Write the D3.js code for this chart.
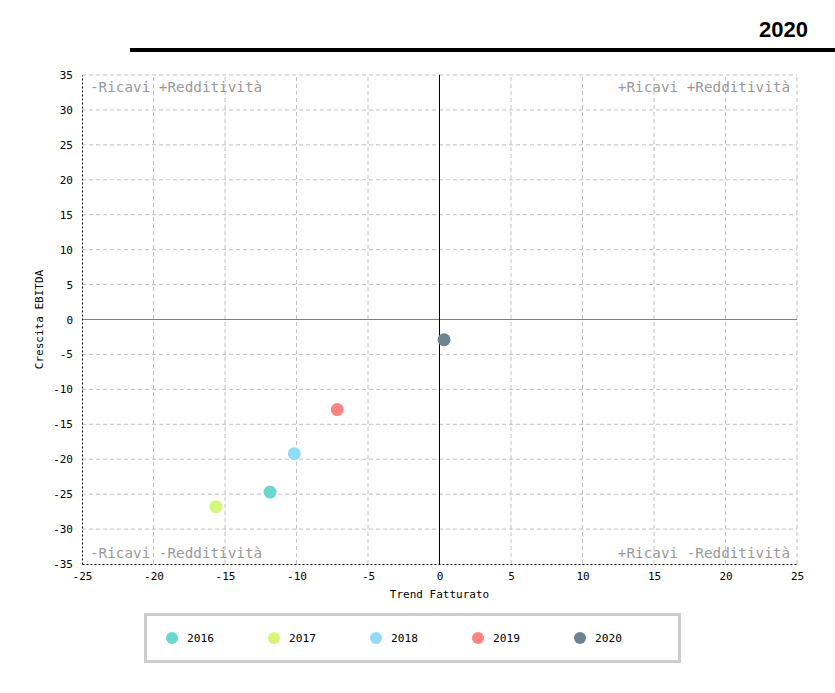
<!DOCTYPE HTML>
<html>
	<head>
		<title>Quadranti 2020</title>
		<meta charset="UTF8">
		<script src="https://d3js.org/d3.v7.min.js"></script>
		<style>
			body
			{
				margin: 0;
				padding: 0;
				background-color: white;
			}
			svg text
			{
				font-family: "DejaVu Sans Mono", monospace;
			}
			.grid line
			{
				stroke: #c0c0c0;
				stroke-dasharray: 4,3;
			}
			.axis path
			{
				stroke: black;
				stroke-dasharray: 2,2;
			}
			.axis text
			{
				font-size: 11px;
				fill: black;
			}
			.quad
			{
				font-size: 14.3px;
				fill: #999999;
			}
		</style>
	</head>

	<body>
		<svg id="chart"></svg>
	</body>

	<script>
		const years = ["2016", "2017", "2018", "2019", "2020"];
		const trendFatturato = [-11.85, -15.63, -10.15, -7.15, 0.32];
		const crescitaEbitda = [-24.7, -26.8, -19.2, -12.9, -2.9];
		const colors = ["#69d8cf", "#d4f779", "#92dcfb", "#fe8484", "#6b8590"];
		const xTicks = d3.range(-25, 26, 5);
		const yTicks = d3.range(-35, 36, 5);

		const w = 835;
		const h = 693;
		const margin = {left: 82, right: 38, top: 75, bottom: 129};

		const svg = d3.select("#chart")
			.attr("width", w)
			.attr("height", h);

		// title + bar
		svg.append("text")
			.attr("x", 808)
			.attr("y", 37)
			.attr("text-anchor", "end")
			.style("font-family", "'Liberation Sans', Arial, sans-serif")
			.style("font-weight", "bold")
			.style("font-size", "22px")
			.text("2020");

		svg.append("rect")
			.attr("x", 130)
			.attr("y", 48)
			.attr("width", w - 130)
			.attr("height", 4)
			.style("fill", "black");

		const xScale = d3.scaleLinear()
			.domain([-25, 25])
			.range([margin.left, w - margin.right]);

		const yScale = d3.scaleLinear()
			.domain([-35, 35])
			.range([h - margin.bottom, margin.top]);

		// grid
		const grid = svg.append("g").attr("class", "grid");
		grid.selectAll(".vx")
			.data(xTicks.filter(d => d != -25))
			.enter()
			.append("line")
			.attr("x1", d => xScale(d))
			.attr("x2", d => xScale(d))
			.attr("y1", yScale(-35))
			.attr("y2", yScale(35));
		grid.selectAll(".hy")
			.data(yTicks.filter(d => d != -35))
			.enter()
			.append("line")
			.attr("x1", xScale(-25))
			.attr("x2", xScale(25))
			.attr("y1", d => yScale(d))
			.attr("y2", d => yScale(d));

		// zero lines
		svg.append("line")
			.attr("x1", xScale(-25))
			.attr("x2", xScale(25))
			.attr("y1", yScale(0))
			.attr("y2", yScale(0))
			.style("stroke", "#808080")
			.style("stroke-width", 1);
		svg.append("line")
			.attr("x1", xScale(0))
			.attr("x2", xScale(0))
			.attr("y1", yScale(-35))
			.attr("y2", yScale(35))
			.style("stroke", "black")
			.style("stroke-width", 1);

		// axes
		const xAxis = d3.axisBottom(xScale).tickValues(xTicks).tickSize(0).tickPadding(8).tickFormat(d => d);
		const yAxis = d3.axisLeft(yScale).tickValues(yTicks).tickSize(0).tickPadding(9).tickFormat(d => d);

		svg.append("g")
			.attr("class", "axis")
			.attr("transform", "translate(0," + yScale(-35) + ")")
			.call(xAxis);

		svg.append("g")
			.attr("class", "axis")
			.attr("transform", "translate(" + xScale(-25) + ",0)")
			.call(yAxis);

		svg.append("text")
			.attr("x", xScale(0))
			.attr("y", 598)
			.attr("text-anchor", "middle")
			.style("font-size", "11px")
			.text("Trend Fatturato");

		svg.append("text")
			.attr("transform", "translate(43," + yScale(0) + ") rotate(-90)")
			.attr("text-anchor", "middle")
			.style("font-size", "11px")
			.text("Crescita EBITDA");

		// quadrant labels
		svg.append("text").attr("class", "quad")
			.attr("x", xScale(-25) + 8).attr("y", yScale(35) + 17)
			.text("-Ricavi +Redditività");
		svg.append("text").attr("class", "quad")
			.attr("x", xScale(25) - 7).attr("y", yScale(35) + 17)
			.attr("text-anchor", "end")
			.text("+Ricavi +Redditività");
		svg.append("text").attr("class", "quad")
			.attr("x", xScale(-25) + 8).attr("y", yScale(-35) - 6)
			.text("-Ricavi -Redditività");
		svg.append("text").attr("class", "quad")
			.attr("x", xScale(25) - 7).attr("y", yScale(-35) - 6)
			.attr("text-anchor", "end")
			.text("+Ricavi -Redditività");

		// points
		svg.selectAll(".pt")
			.data(years)
			.enter()
			.append("circle")
			.attr("class", "pt")
			.attr("cx", (d, i) => xScale(trendFatturato[i]))
			.attr("cy", (d, i) => yScale(crescitaEbitda[i]))
			.attr("r", 6.5)
			.style("fill", (d, i) => colors[i]);

		// legend
		const legend = svg.append("g").attr("class", "legend");
		legend.append("rect")
			.attr("x", 145.5)
			.attr("y", 614.5)
			.attr("width", 534)
			.attr("height", 47)
			.style("fill", "white")
			.style("stroke", "#cccccc")
			.style("stroke-width", 3);

		const item = legend.selectAll(".item")
			.data(years)
			.enter()
			.append("g")
			.attr("transform", (d, i) => "translate(" + (172 + 102 * i) + ",638)");
		item.append("circle")
			.attr("r", 6)
			.style("fill", (d, i) => colors[i]);
		item.append("text")
			.attr("x", 15)
			.attr("y", 4)
			.style("font-size", "11.2px")
			.text(d => d);
	</script>
</html>
